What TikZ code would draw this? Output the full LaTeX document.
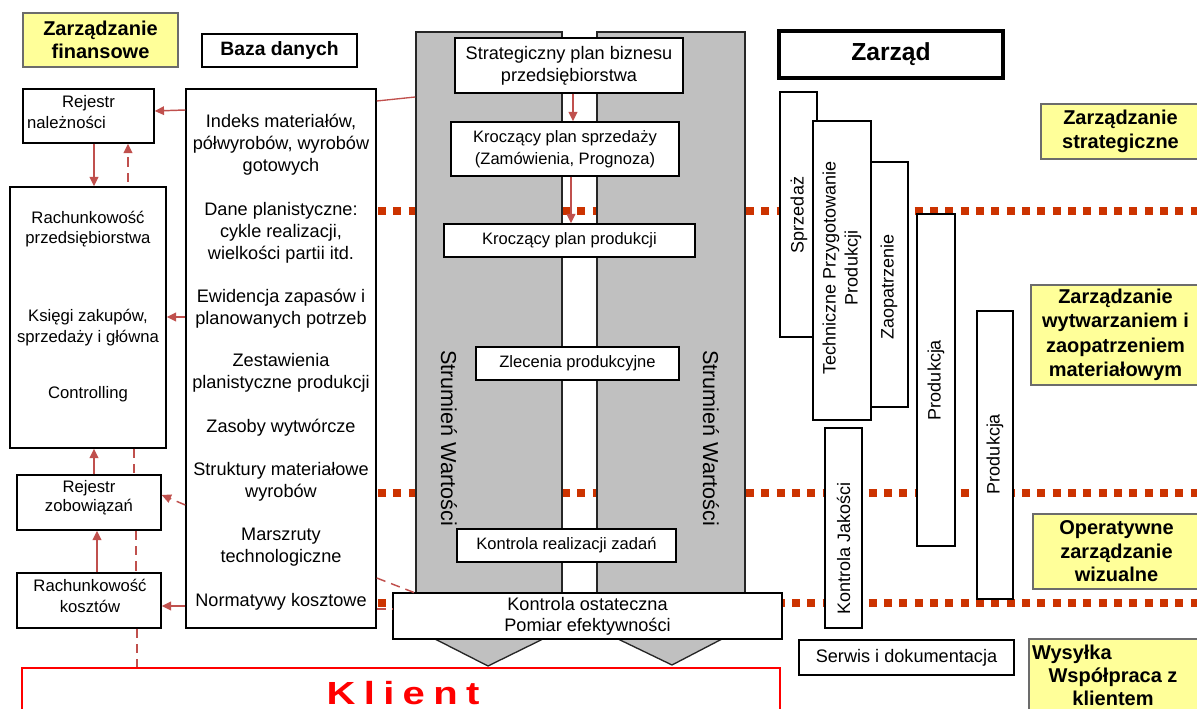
\documentclass[tikz,border=0pt]{standalone}
\usepackage{fontspec}
\usepackage{graphicx}
\setmainfont{Liberation Sans}
\usetikzlibrary{arrows.meta}
\definecolor{arrred}{RGB}{192,80,77}
\definecolor{dotred}{RGB}{204,51,0}
\definecolor{ylw}{RGB}{255,255,153}
\definecolor{colgray}{RGB}{192,192,192}
\definecolor{kred}{RGB}{255,0,0}
\begin{document}
\begin{tikzpicture}[x=0.75pt,y=-0.75pt,
 bw/.style={minimum width=#1*0.75pt},
 bh/.style={minimum height=#1*0.75pt},
 box/.style={draw=black, line width=1.1pt, fill=white, inner sep=0pt, align=center, font=\fontsize{12.4}{16}\selectfont},
 ybox/.style={draw=gray!85!black, line width=1pt, fill=ylw, inner sep=0pt, align=center, font=\fontsize{15}{18.3}\selectfont\bfseries},
 colbox/.style={draw=black!85, line width=1.1pt, fill=colgray, inner sep=0pt},
 txt/.style={inner sep=0pt, align=center, font=\fontsize{12.5}{15.5}\selectfont},
 dbtxt/.style={inner sep=0pt, align=center, font=\fontsize{13.6}{16.5}\selectfont},
 vtxt/.style={inner sep=0pt, align=center, rotate=90, font=\fontsize{13.5}{16.5}\selectfont},
 swtxt/.style={inner sep=0pt, rotate=-90, font=\fontsize{16.2}{19}\selectfont},
 arr/.style={draw=arrred, line width=1.1pt, -{Triangle[length=7pt,width=6.5pt]}},
 darr/.style={arr, dash pattern=on 7pt off 4.5pt},
 dln/.style={draw=arrred, line width=1.1pt, dash pattern=on 7pt off 4.5pt},
 ln/.style={draw=arrred, line width=1pt},
 dotline/.style={draw=dotred, line width=6pt, dash pattern=on 6pt off 5.5pt},
]
\useasboundingbox (0,0) rectangle (1197,709);

% dotted level lines
\draw[dotline] (378,211) -- (1197,211);
\draw[dotline] (378,493) -- (1197,493);
\draw[dotline] (378,603) -- (1197,603);

% value stream columns
\node[colbox, bw=146, bh=588] (colL) at (489,326) {};
\node[colbox, bw=148, bh=588] (colR) at (671,326) {};
\fill[colgray] (435,639) -- (488,666) -- (543,639) -- cycle;
\draw[black!85, line width=1pt] (435,639) -- (488,666) -- (543,639);
\fill[colgray] (618,639) -- (672,665) -- (722,639) -- cycle;
\draw[black!85, line width=1pt] (618,639) -- (672,665) -- (722,639);
\node[swtxt] (sw1) at (449,438) {Strumień Wartości};
\node[swtxt] (sw2) at (711,438) {Strumień Wartości};

% center boxes
\node[box, bw=228, bh=55, font=\fontsize{13.6}{16.5}\selectfont] (sp) at (569,65.5) {Strategiczny plan biznesu\\przedsiębiorstwa};
\node[box, bw=228, bh=54, font=\fontsize{12.4}{16.5}\selectfont] (ks) at (565,149) {Kroczący plan sprzedaży\\(Zamówienia, Prognoza)};
\node[box, bw=251, bh=33] (kp) at (569.5,240.5) {Kroczący plan produkcji};
\node[box, bw=203, bh=33] (zp) at (577.5,363.5) {Zlecenia produkcyjne};
\node[box, bw=219, bh=33] (kr) at (566.5,545.5) {Kontrola realizacji zadań};
\node[box, bw=389, bh=46, font=\fontsize{13.6}{15.8}\selectfont] (ko) at (587.5,616) {Kontrola ostateczna\\Pomiar efektywności};

% client
\node[draw=kred, line width=2.2pt, bw=758, bh=62, inner sep=0pt] (kl) at (401,699) {};
\node[anchor=base, inner sep=0pt, text=kred, font=\fontsize{24}{28}\selectfont\bfseries] (klt) at (403,704) {\scalebox{1.25}[1]{K\kern5pt l\kern5pt i\kern5pt e\kern5pt n\kern5pt t}};

% left side
\node[ybox, bw=155, bh=54, font=\fontsize{15}{17.3}\selectfont\bfseries] (zf) at (100.5,40) {Zarządzanie\\finansowe};
\node[box, bw=155, bh=33, font=\fontsize{14.5}{17}\selectfont\bfseries] (bd) at (279.5,50.5) {Baza danych};
\node[box, bw=131, bh=54] (rn) at (88.5,116) {};
\node[txt] (rnt) at (88.5,112) {Rejestr\\\makebox[92pt][l]{należności}};
\node[box, bw=156, bh=261] (rp) at (88,317.5) {};
\node[txt] (rp1) at (88,229) {Rachunkowość\\przedsiębiorstwa};
\node[txt] (rp2) at (88,327.5) {Księgi zakupów,\\sprzedaży i główna};
\node[txt] (rp3) at (88,394) {Controlling};
\node[box, bw=144, bh=55] (rz) at (89,502.5) {};
\node[txt, font=\fontsize{12.5}{14.5}\selectfont] (rzt) at (89,497.5) {Rejestr\\zobowiązań};
\node[box, bw=144, bh=55] (rk) at (89,600.5) {};
\node[txt] (rkt) at (90,596) {Rachunkowość\\kosztów};
\node[box, bw=190, bh=539] (db) at (281,358.5) {};
\node[dbtxt] (db1) at (281,145) {Indeks materiałów,\\półwyrobów, wyrobów\\gotowych};
\node[dbtxt] (db2) at (281,233) {Dane planistyczne:\\cykle realizacji,\\wielkości partii itd.};
\node[dbtxt] (db3) at (281,308.5) {Ewidencja zapasów i\\planowanych potrzeb};
\node[dbtxt] (db4) at (281,373) {Zestawienia\\planistyczne produkcji};
\node[dbtxt] (db5) at (281,428) {Zasoby wytwórcze};
\node[dbtxt] (db6) at (281,482) {Struktury materiałowe\\wyrobów};
\node[dbtxt] (db7) at (281,547) {Marszruty\\technologiczne};
\node[dbtxt] (db8) at (281,602) {Normatywy kosztowe};

% right side
\node[box, line width=2.3pt, bw=224, bh=47, font=\fontsize{18.5}{22}\selectfont\bfseries] (zd) at (891,54.5) {Zarząd};
\node[box, bw=37, bh=245] (sz) at (798.5,214.5) {};
\node[vtxt] (szt) at (799,215) {Sprzedaż};
\node[box, bw=58, bh=299] (tp) at (842,270.5) {};
\node[vtxt] (tpt) at (842,268) {Techniczne Przygotowanie\\Produkcji};
\node[box, bw=37, bh=245] (zo) at (889.5,284.5) {};
\node[vtxt] (zot) at (889,287) {Zaopatrzenie};
\node[box, bw=38, bh=332] (p1) at (936,380) {};
\node[vtxt] (p1t) at (936,380) {Produkcja};
\node[box, bw=36, bh=288] (p2) at (995,455) {};
\node[vtxt] (p2t) at (995,454) {Produkcja};
\node[box, bw=37, bh=200] (kj) at (843.5,528) {};
\node[vtxt] (kjt) at (843.5,548) {Kontrola Jakości};
\node[box, bw=215, bh=35, font=\fontsize{13.6}{16}\selectfont] (sd) at (906.5,657.5) {Serwis i dokumentacja};

\node[ybox, bw=159, bh=55] (zs) at (1120.5,131.5) {Zarządzanie\\strategiczne};
\node[ybox, bw=169, bh=100] (zw) at (1115.5,335) {Zarządzanie\\wytwarzaniem i\\zaopatrzeniem\\materiałowym};
\node[ybox, bw=167, bh=75, font=\fontsize{15}{17.6}\selectfont\bfseries] (oz) at (1116.5,551.5) {Operatywne\\zarządzanie\\wizualne};
\node[ybox, bw=171, bh=91] (wy) at (1114.5,684.5) {};
\node[inner sep=0pt, align=center, font=\fontsize{15}{17.5}\selectfont\bfseries] (wyt) at (1113,675.5) {\makebox[121.5pt][l]{Wysyłka}\\Współpraca z\\klientem};

% connectors
\draw[arr] (db.west |- 0,110) -- (rn.east |- 0,111);
\draw[arr] (rn.south -| 94,0) -- (rp.north -| 94,0);
\draw[darr] (128,182) -- (rn.south -| 128,0);
\draw[arr] (db.west |- 0,317) -- (rp.east |- 0,317);
\draw[arr] (rz.north -| 94,0) -- (rp.south -| 94,0);
\draw[dln] (rp.south -| 134,0) -- (rz.north -| 134,0);
\draw[arr] (rk.north -| 97,0) -- (rz.south -| 97,0);
\draw[dln] (rz.south -| 136,0) -- (rk.north -| 136,0);
\draw[dln] (rk.south -| 137,0) -- (kl.north -| 137,0);
\draw[darr] (db.west |- 0,505) -- (rz.east |- 0,495);
\draw[arr] (db.west |- 0,606) -- (rk.east |- 0,606);
\draw[ln] (db.east |- 0,101) -- (colL.west |- 0,97);
\draw[dln] (db.east |- 0,578) -- (colL.west |- 0,593);
\draw[dln] (db.east |- 0,609) -- (ko.west |- 0,609);
\draw[arr] (sp.south -| 573,0) -- (ks.north -| 573,0);
\draw[arr] (ks.south -| 571,0) -- (kp.north -| 571,0);
\end{tikzpicture}
\end{document}
